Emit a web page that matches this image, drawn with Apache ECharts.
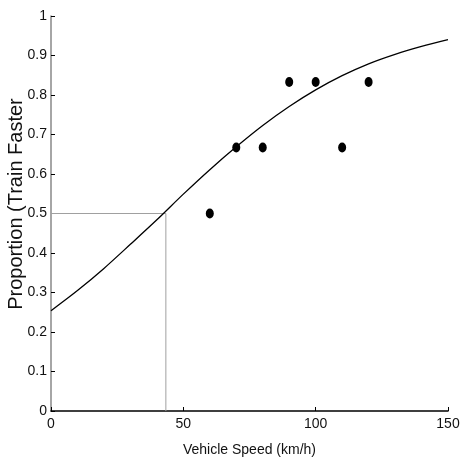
<!DOCTYPE html>
<html>
<head>
<meta charset="utf-8">
<script src="https://cdn.jsdelivr.net/npm/echarts@6/dist/echarts.min.js"></script>
<style>
  html, body { margin: 0; padding: 0; background: #fff; }
  #chart { width: 463px; height: 467px; }
</style>
</head>
<body>
<div id="chart"></div>
<script>
// Observed proportions of trials where the train was judged faster
const obsSpeed = [60, 70, 80, 90, 100, 110, 120];
const obsProportion = [0.5, 0.667, 0.667, 0.833, 0.833, 0.667, 0.833];

// Fitted psychometric curve, sampled every 10 km/h
const fitSpeed = [0, 10, 20, 30, 40, 50, 60, 70, 80, 90, 100, 110, 120, 130, 140, 150];
const fitProportion = [0.254, 0.305, 0.361, 0.422, 0.484, 0.549, 0.611, 0.669, 0.723, 0.771, 0.813, 0.849, 0.879, 0.903, 0.923, 0.940];

// Point of subjective equality (50% level) guide lines
const pseSpeed = 43.4;
const pseLevel = 0.5;

const xTicks = [0, 50, 100, 150];
const yTicks = [0, 0.1, 0.2, 0.3, 0.4, 0.5, 0.6, 0.7, 0.8, 0.9, 1];

const baseFont = "'Liberation Sans', Arial, sans-serif";

const chart = echarts.init(document.getElementById('chart'), null, { renderer: 'canvas' });

chart.setOption({
  animation: false,
  backgroundColor: '#ffffff',
  grid: { left: 51, right: 15, top: 16, bottom: 56, containLabel: false, outerBoundsMode: 'none' },
  xAxis: {
    type: 'value',
    min: xTicks[0],
    max: xTicks[xTicks.length - 1],
    interval: 50,
    name: 'Vehicle Speed (km/h)',
    nameLocation: 'middle',
    nameGap: 32,
    nameMoveOverlap: false,
    nameTextStyle: { fontFamily: baseFont, fontSize: 14, color: '#111' },
    axisLine: { lineStyle: { color: '#000', width: 1.5 } },
    axisTick: { inside: true, length: 4, lineStyle: { color: '#000' } },
    axisLabel: { fontFamily: baseFont, fontSize: 14, color: '#111', margin: 6 },
    splitLine: { show: false }
  },
  yAxis: {
    type: 'value',
    min: yTicks[0],
    max: yTicks[yTicks.length - 1],
    interval: 0.1,
    name: 'Proportion (Train Faster',
    nameLocation: 'middle',
    nameGap: 25,
    nameMoveOverlap: false,
    nameTextStyle: { fontFamily: baseFont, fontSize: 20, color: '#111', padding: [0, 0, 0, 19] },
    axisLine: { show: true, lineStyle: { color: '#888', width: 1.5 } },
    axisTick: { show: true, inside: true, length: 4, lineStyle: { color: '#000' } },
    axisLabel: {
      fontFamily: baseFont, fontSize: 14, color: '#111', margin: 4,
      formatter: v => String(Math.round(v * 10) / 10)
    },
    splitLine: { show: false }
  },
  series: [
    {
      type: 'line',
      data: [[xTicks[0], pseLevel], [pseSpeed, pseLevel], [pseSpeed, yTicks[0]]],
      symbol: 'none',
      lineStyle: { color: '#a0a0a0', width: 1 },
      z: 1
    },
    {
      type: 'line',
      data: fitSpeed.map((x, i) => [x, fitProportion[i]]),
      smooth: 0.3,
      symbol: 'none',
      lineStyle: { color: '#000', width: 1.3 },
      z: 2
    },
    {
      type: 'scatter',
      data: obsSpeed.map((x, i) => [x, obsProportion[i]]),
      symbol: 'circle',
      symbolSize: [8, 10],
      itemStyle: { color: '#000', opacity: 1 },
      z: 3
    }
  ]
});
</script>
</body>
</html>
